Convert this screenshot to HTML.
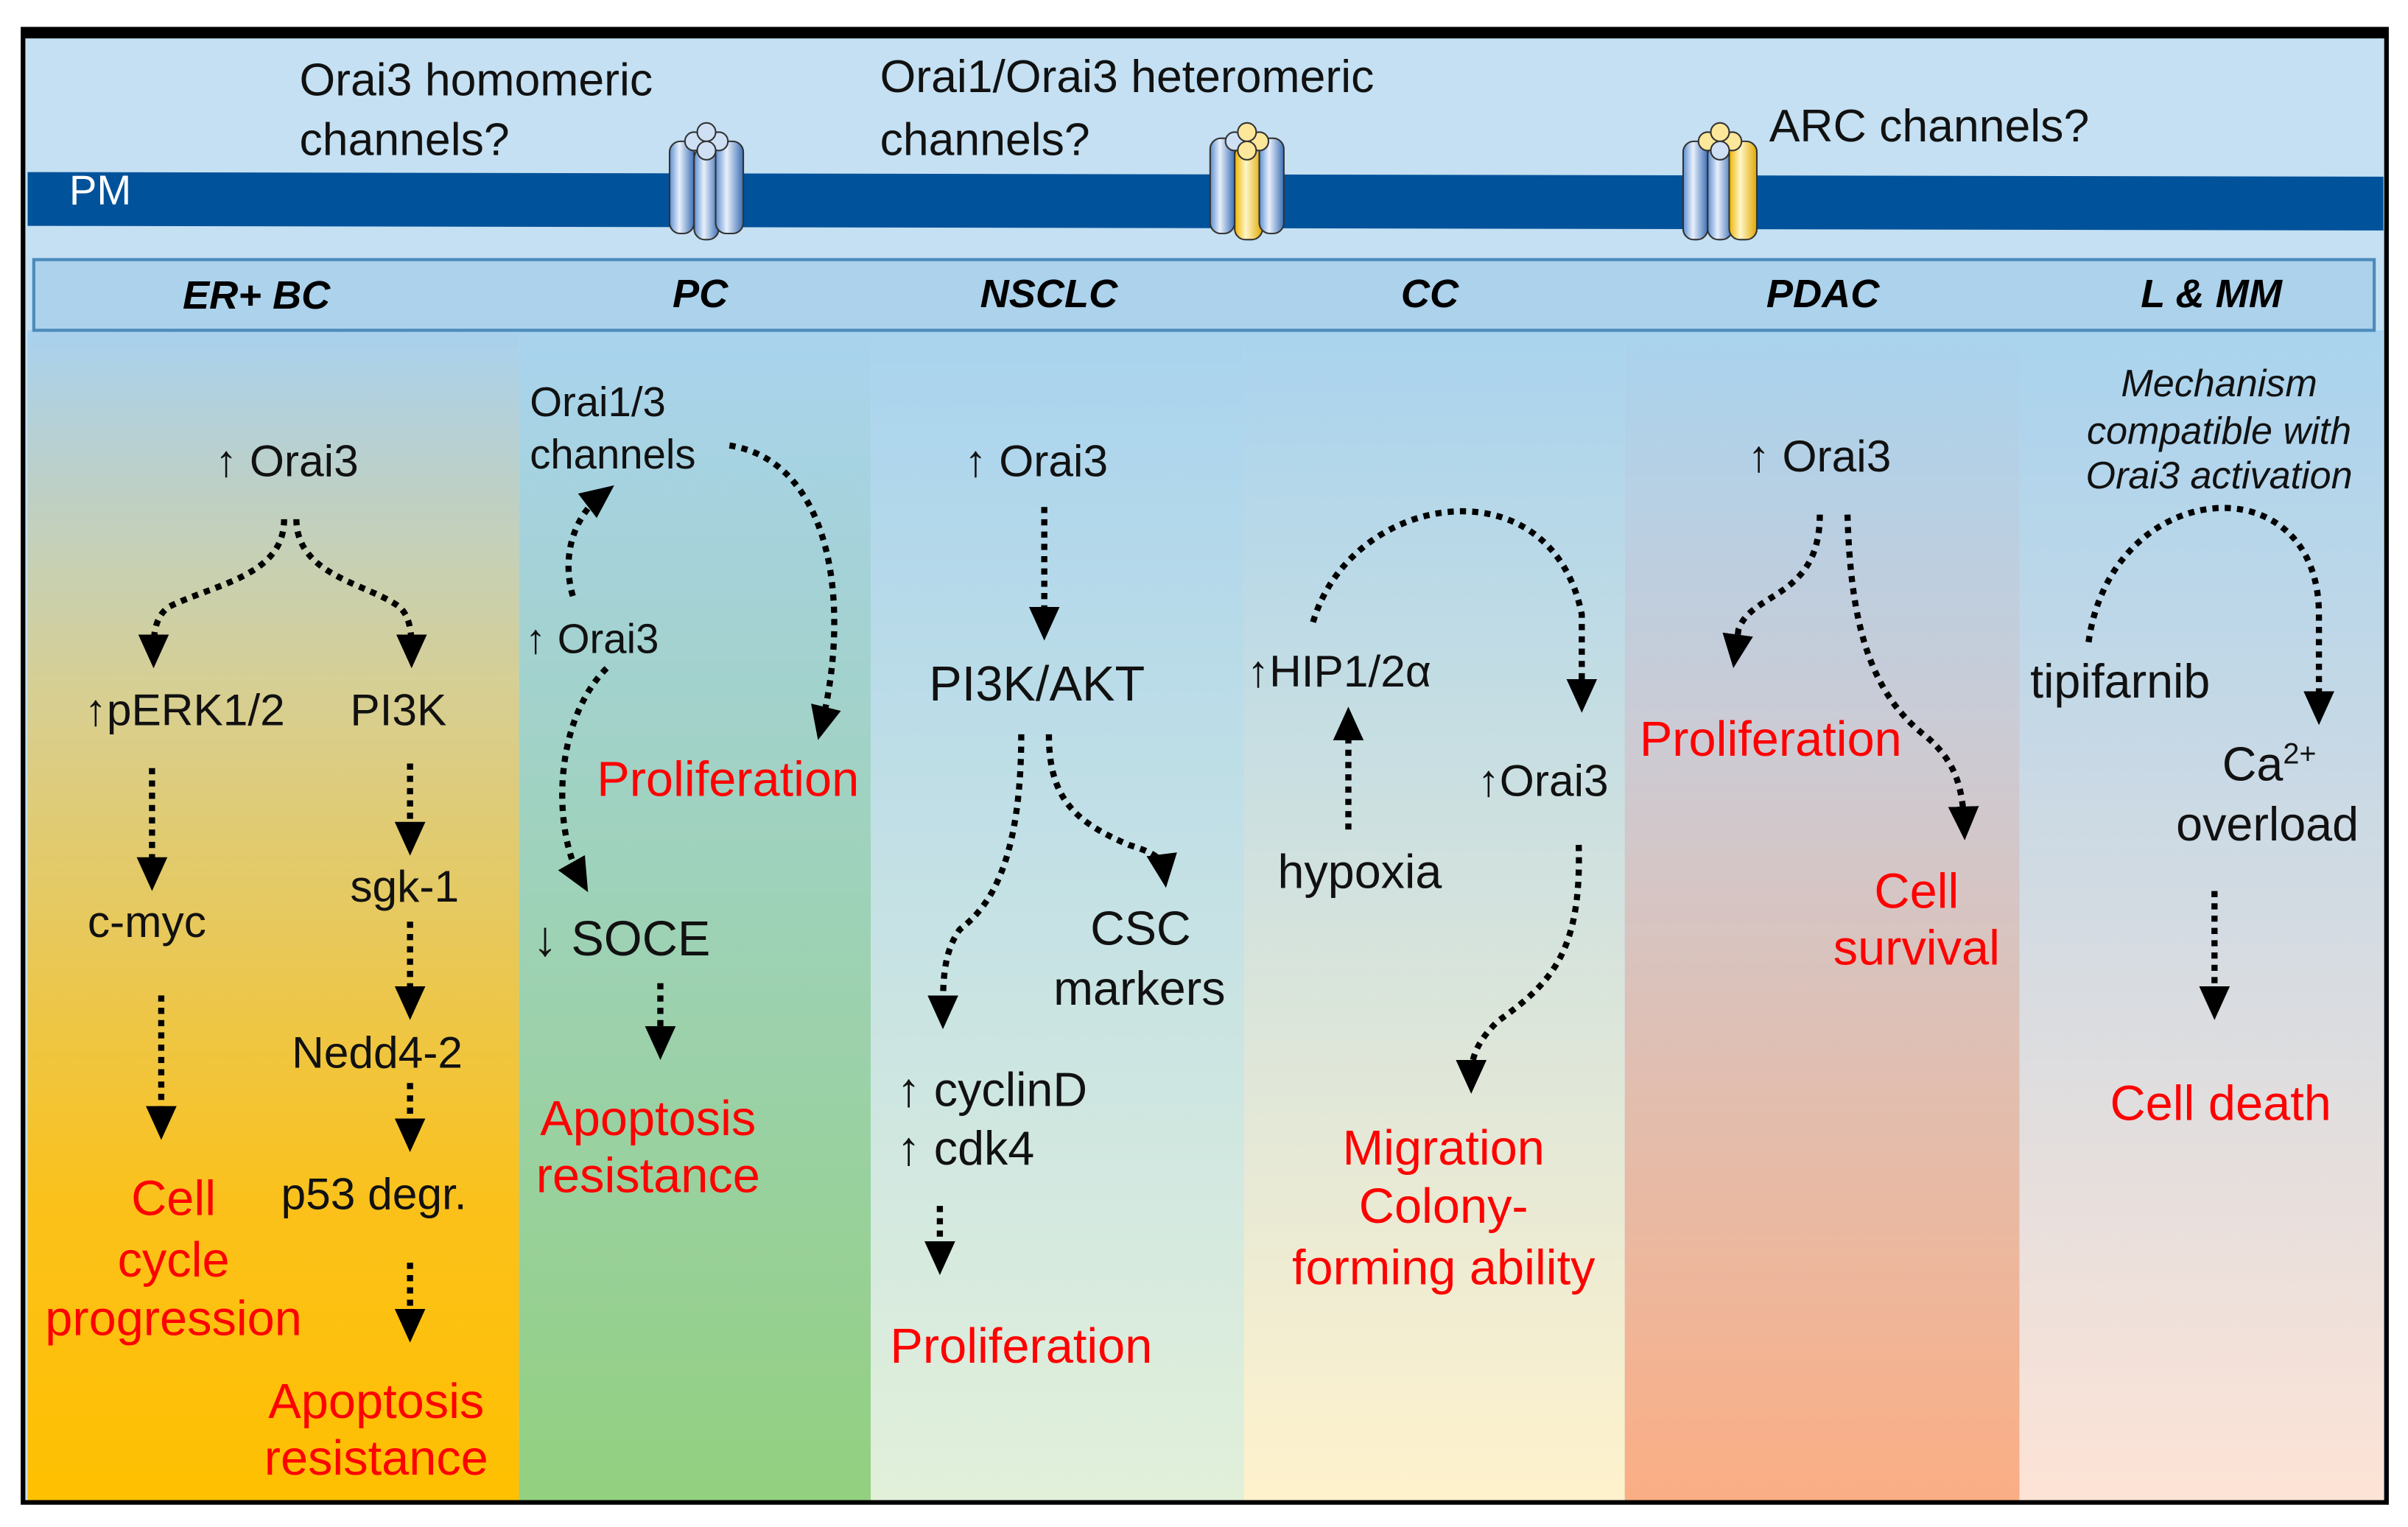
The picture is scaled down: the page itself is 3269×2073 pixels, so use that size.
<!DOCTYPE html>
<html><head><meta charset="utf-8"><style>
html,body{margin:0;padding:0;background:#fff}
svg{display:block}
text{font-family:"Liberation Sans",Arial,sans-serif}
</style></head><body>
<svg width="3269" height="2073" viewBox="0 0 1568 994" preserveAspectRatio="none" xmlns="http://www.w3.org/2000/svg">
<defs>
<linearGradient id="g1" x1="0" y1="0" x2="0" y2="1"><stop offset="0" stop-color="#a9d1ee"/><stop offset="0.3" stop-color="#d6cf95"/><stop offset="0.75" stop-color="#fbc11a"/><stop offset="1" stop-color="#ffc000"/></linearGradient>
<linearGradient id="g2" x1="0" y1="0" x2="0" y2="1"><stop offset="0" stop-color="#a9d3ee"/><stop offset="1" stop-color="#93d07f"/></linearGradient>
<linearGradient id="g3" x1="0" y1="0" x2="0" y2="1"><stop offset="0" stop-color="#a9d3ee"/><stop offset="1" stop-color="#e2f0da"/></linearGradient>
<linearGradient id="g4" x1="0" y1="0" x2="0" y2="1"><stop offset="0" stop-color="#a9d3ee"/><stop offset="1" stop-color="#fff2cc"/></linearGradient>
<linearGradient id="g5" x1="0" y1="0" x2="0" y2="1"><stop offset="0" stop-color="#a9d3ee"/><stop offset="0.35" stop-color="#cccbd4"/><stop offset="1" stop-color="#fbae84"/></linearGradient>
<linearGradient id="g6" x1="0" y1="0" x2="0" y2="1"><stop offset="0" stop-color="#a9d3ee"/><stop offset="1" stop-color="#fde3d6"/></linearGradient>
<linearGradient id="cb" x1="0" y1="0" x2="1" y2="0"><stop offset="0" stop-color="#5d8fd0"/><stop offset="0.4" stop-color="#e8f0fb"/><stop offset="1" stop-color="#3c6fb5"/></linearGradient>
<linearGradient id="cy" x1="0" y1="0" x2="1" y2="0"><stop offset="0" stop-color="#f0b400"/><stop offset="0.4" stop-color="#fff6c8"/><stop offset="1" stop-color="#e0a800"/></linearGradient>
<marker id="ah" markerWidth="6" markerHeight="6" refX="3" refY="3" orient="auto" markerUnits="strokeWidth"><path d="M0,0.5 L5.5,3 L0,5.5 Z" fill="#000"/></marker>
</defs>
<rect width="1568" height="994" fill="#fff"/>
<rect x="16" y="20" width="1538" height="958" fill="#c4e0f2"/>
<rect x="18" y="215" width="320" height="762" fill="url(#g1)"/>
<rect x="338" y="215" width="229" height="762" fill="url(#g2)"/>
<rect x="567" y="215" width="243" height="762" fill="url(#g3)"/>
<rect x="810" y="215" width="248" height="762" fill="url(#g4)"/>
<rect x="1058" y="215" width="257" height="762" fill="url(#g5)"/>
<rect x="1315" y="215" width="237" height="762" fill="url(#g6)"/>
<polygon points="18,112 1552,115 1552,150 18,147" fill="#00529b"/>
<text x="45" y="133" font-size="27" fill="#fff">PM</text>
<rect x="22" y="169" width="1524" height="46" fill="#acd2ec" stroke="#4b8bbb" stroke-width="2"/>
<g font-size="26" font-weight="bold" font-style="italic" text-anchor="middle">
<text x="167" y="201">ER+ BC</text><text x="456" y="200">PC</text><text x="683" y="200">NSCLC</text><text x="931" y="200">CC</text><text x="1187" y="200">PDAC</text><text x="1440" y="200">L &amp; MM</text>
</g>
<rect x="15" y="19" width="1539" height="959" fill="none" stroke="#000" stroke-width="3"/>
<rect x="15" y="18" width="1539" height="7" fill="#000"/>
<g font-size="30" fill="#111">
<text x="195" y="62">Orai3 homomeric</text><text x="195" y="101">channels?</text>
<text x="573" y="60">Orai1/Orai3 heteromeric</text><text x="573" y="101">channels?</text>
<text x="1152" y="92">ARC channels?</text>
</g>
<g stroke="#333" stroke-width="1">
<rect x="436" y="92" width="16" height="60" rx="7" fill="url(#cb)"/><rect x="452" y="96" width="16" height="60" rx="7" fill="url(#cb)"/><rect x="466" y="92" width="18" height="60" rx="7" fill="url(#cb)"/>
<rect x="788" y="90" width="16" height="62" rx="7" fill="url(#cb)"/><rect x="804" y="94" width="18" height="62" rx="7" fill="url(#cy)"/><rect x="820" y="90" width="16" height="62" rx="7" fill="url(#cb)"/>
<rect x="1096" y="92" width="16" height="64" rx="7" fill="url(#cb)"/><rect x="1112" y="94" width="16" height="62" rx="7" fill="url(#cb)"/><rect x="1126" y="92" width="18" height="64" rx="7" fill="url(#cy)"/>
<circle cx="452" cy="92" r="6" fill="#cfe0f5"/><circle cx="468" cy="92" r="6" fill="#cfe0f5"/><circle cx="460" cy="86" r="6" fill="#cfe0f5"/><circle cx="460" cy="98" r="6" fill="#cfe0f5"/>
<circle cx="804" cy="92" r="6" fill="#cfe0f5"/><circle cx="820" cy="92" r="6" fill="#fde79a"/><circle cx="812" cy="86" r="6" fill="#fde79a"/><circle cx="812" cy="98" r="6" fill="#fde79a"/>
<circle cx="1112" cy="92" r="6" fill="#fde79a"/><circle cx="1128" cy="92" r="6" fill="#fde79a"/><circle cx="1120" cy="86" r="6" fill="#fde79a"/><circle cx="1120" cy="98" r="6" fill="#cfe0f5"/>
</g>
<g font-size="29" fill="#111">
<text x="140" y="310">↑ Orai3</text>
<text x="55" y="472">↑pERK1/2</text><text x="228" y="472">PI3K</text>
<text x="57" y="610">c-myc</text><text x="228" y="587">sgk-1</text>
<text x="190" y="695">Nedd4-2</text><text x="183" y="787">p53 degr.</text>
<text x="345" y="271" font-size="27">Orai1/3</text><text x="345" y="305" font-size="27">channels</text>
<text x="342" y="425" font-size="27">↑ Orai3</text>
<text x="347" y="622" font-size="32">↓ SOCE</text>
<text x="628" y="310">↑ Orai3</text>
<text x="605" y="456" font-size="32">PI3K/AKT</text>
<text x="710" y="615" font-size="31">CSC</text><text x="686" y="654" font-size="31">markers</text>
<text x="584" y="720" font-size="31">↑ cyclinD</text><text x="584" y="758" font-size="31">↑ cdk4</text>
<text x="812" y="447">↑HIP1/2α</text>
<text x="832" y="578" font-size="31">hypoxia</text>
<text x="962" y="518">↑Orai3</text>
<text x="1138" y="307">↑ Orai3</text>
<text x="1322" y="454" font-size="31">tipifarnib</text>
<text x="1447" y="508" font-size="31">Ca<tspan font-size="19" dy="-11">2+</tspan></text>
<text x="1417" y="547" font-size="31">overload</text>
</g>
<g font-size="25" font-style="italic" text-anchor="middle" fill="#111">
<text x="1445" y="258">Mechanism</text><text x="1445" y="289">compatible with</text><text x="1445" y="318">Orai3 activation</text>
</g>
<g font-size="32" fill="#f00" text-anchor="middle">
<text x="113" y="791">Cell</text><text x="113" y="831">cycle</text><text x="113" y="869">progression</text>
<text x="245" y="923">Apoptosis</text><text x="245" y="960">resistance</text>
<text x="474" y="518">Proliferation</text>
<text x="422" y="739">Apoptosis</text><text x="422" y="776">resistance</text>
<text x="665" y="887">Proliferation</text>
<text x="940" y="758">Migration</text><text x="940" y="796">Colony-</text><text x="940" y="836">forming ability</text>
<text x="1153" y="492">Proliferation</text>
<text x="1248" y="591">Cell</text><text x="1248" y="628">survival</text>
<text x="1446" y="729">Cell death</text>
</g>
<g fill="none" stroke="#000" stroke-width="4" stroke-dasharray="4 4" marker-end="url(#ah)">
<path d="M185,338 C185,375 140,380 110,395 C100,402 100,415 100,425"/>
<path d="M193,338 C193,375 240,380 260,395 C268,402 268,415 268,425"/>
<path d="M99,500 L99,570"/>
<path d="M267,497 L267,547"/>
<path d="M105,648 L105,732"/>
<path d="M267,600 L267,654"/>
<path d="M267,705 L267,740"/>
<path d="M267,822 L267,864"/>
<path d="M373,388 C365,360 375,335 392,322"/>
<path d="M475,290 C540,300 555,390 535,472"/>
<path d="M395,435 C360,470 360,540 378,572"/>
<path d="M430,640 L430,680"/>
<path d="M680,330 L680,407"/>
<path d="M665,478 C665,560 645,590 625,605 C614,620 614,640 614,660"/>
<path d="M683,478 C683,520 700,535 735,550 C755,556 757,560 758,568"/>
<path d="M612,785 L612,820"/>
<path d="M855,405 C880,320 1010,300 1030,400 L1030,454"/>
<path d="M878,540 L878,470"/>
<path d="M1028,550 C1030,620 1010,640 975,665 C960,680 958,690 958,702"/>
<path d="M1185,335 C1185,390 1140,385 1132,410 L1130,425"/>
<path d="M1203,335 C1205,400 1215,450 1255,480 C1272,495 1278,510 1279,537"/>
<path d="M1360,418 C1375,310 1510,300 1510,400 L1510,462"/>
<path d="M1442,580 L1442,654"/>
</g>
</svg>
</body></html>
